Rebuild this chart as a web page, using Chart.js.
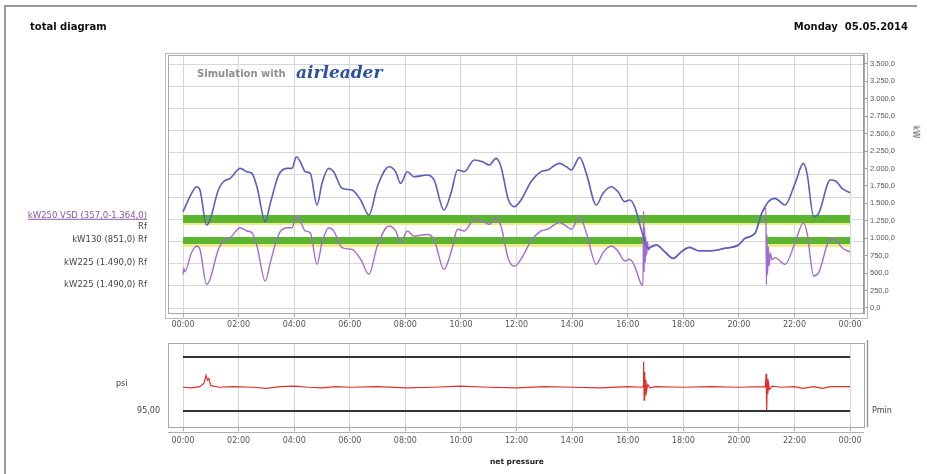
<!DOCTYPE html>
<html><head><meta charset="utf-8">
<script src="https://cdn.jsdelivr.net/npm/chart.js@4/dist/chart.umd.min.js"></script>
<style>
html,body{margin:0;padding:0;background:#fff;width:927px;height:474px;overflow:hidden;font-family:"DejaVu Sans",sans-serif}
.ln{position:absolute;background:#9a9a9a}
canvas{position:absolute;left:0}
.t{position:absolute;white-space:nowrap;line-height:1;transform:translateY(-50%);color:#444}
.r{text-align:right}
</style></head><body>
<div class="ln" style="left:4px;top:5px;width:913px;height:1.5px"></div>
<div class="ln" style="left:4px;top:5px;width:1.5px;height:469px"></div>
<canvas id="main" width="927" height="340" style="top:0"></canvas>
<canvas id="low" width="927" height="139" style="top:335px"></canvas>
<div class="t" style="left:30px;top:27px;font-weight:bold;font-size:10px;color:#111">total diagram</div>
<div class="t" style="right:19px;top:27px;font-weight:bold;font-size:10px;color:#111">Monday&nbsp; 05.05.2014</div>
<div class="t" style="left:197px;top:74px;font-weight:bold;font-size:10px;color:#8f8f8f">Simulation with</div>
<div class="t" style="left:296px;top:72px;font-weight:bold;font-style:italic;font-size:17px;color:#2c4fa0;font-family:'DejaVu Serif',serif">airleader</div>
<div class="t r" style="right:780px;top:215px;font-size:8.5px;color:#8a55aa;text-decoration:underline">kW250 VSD (357,0-1.364,0)</div>
<div class="t r" style="right:780px;top:226px;font-size:8.5px">Rf</div>
<div class="t r" style="right:780px;top:239px;font-size:8.5px">kW130 (851,0) Rf</div>
<div class="t r" style="right:780px;top:262px;font-size:8.5px">kW225 (1.490,0) Rf</div>
<div class="t r" style="right:780px;top:284px;font-size:8.5px">kW225 (1.490,0) Rf</div>
<div class="t" style="left:909px;top:132px;font-size:8px;transform:translateY(-50%) rotate(90deg)">kW</div>
<div class="t" style="left:116px;top:384px;font-size:8px">psi</div>
<div class="t r" style="right:767px;top:411px;font-size:8px">95,00</div>
<div class="t" style="left:872px;top:411px;font-size:8px">Pmin</div>
<div class="t" style="left:490px;top:462px;font-size:7.5px;font-weight:bold;color:#222">net pressure</div>
<script>
// ---- data ----
const hourTicks = [0,2,4,6,8,10,12,14,16,18,20,22,24];
const hourLabels = ['00:00','02:00','04:00','06:00','08:00','10:00','12:00','14:00','16:00','18:00','20:00','22:00','00:00'];
const kwTicks = [0,250,500,750,1000,1250,1500,1750,2000,2250,2500,2750,3000,3250,3500];
const kwLabels = ['0,0','250,0','500,0','750,0','1.000,0','1.250,0','1.500,0','1.750,0','2.000,0','2.250,0','2.500,0','2.750,0','3.000,0','3.250,0','3.500,0'];
const gridRows = [0,1,2,3,4,5,6,7,8,9,10,11];

const totalTime = [0.00,0.31,0.49,0.61,0.85,0.97,1.27,1.45,1.70,2.06,2.30,2.48,2.66,2.96,3.14,3.44,3.74,3.92,4.08,4.22,4.40,4.58,4.82,5.00,5.24,5.42,5.72,6.08,6.39,6.69,6.99,7.41,7.65,7.83,8.07,8.31,8.79,9.03,9.39,9.64,9.88,10.12,10.48,10.78,11.02,11.26,11.44,11.70,11.92,12.16,12.52,12.88,13.12,13.54,13.79,13.97,14.27,14.51,14.87,15.11,15.41,15.65,15.89,16.07,16.25,16.49,16.73,17.03,17.33,17.63,17.93,18.23,18.54,19.02,19.50,19.98,20.22,20.58,20.82,21.06,21.30,21.66,22.02,22.32,22.45,22.69,22.87,23.29,23.47,23.71,24.00];
const totalKW = [1380,1645,1740,1692,1190,1262,1692,1811,1860,2003,1955,1931,1740,1238,1501,1907,2003,2003,2170,2098,1955,1931,1477,1788,2003,1955,1716,1692,1549,1334,1740,2027,1955,1788,1955,1883,1907,1836,1405,1645,1979,1955,2122,2098,2051,2146,2027,1560,1453,1549,1811,1955,1979,2075,2027,1979,2161,1931,1477,1645,1740,1668,1525,1549,1453,1119,856,903,807,712,807,870,822,822,856,903,999,1071,1358,1525,1573,1477,1788,2075,1931,1310,1358,1836,1826,1716,1654];

const vsdTime = [0.00,0.03,0.06,0.31,0.49,0.61,0.85,0.97,1.27,1.45,1.70,2.06,2.30,2.48,2.66,2.96,3.14,3.44,3.74,3.92,4.08,4.22,4.40,4.58,4.82,5.00,5.24,5.42,5.72,6.08,6.39,6.69,6.99,7.41,7.65,7.83,8.07,8.31,8.79,9.03,9.39,9.64,9.88,10.12,10.48,10.78,11.02,11.26,11.44,11.70,11.92,12.16,12.52,12.88,13.12,13.54,13.79,13.97,14.27,14.51,14.87,15.11,15.41,15.65,15.89,16.07,16.25,16.49,16.55,16.57,16.59,16.61,16.63,16.65,16.68,16.71,16.75,16.81,17.03,17.33,17.63,17.93,18.23,18.54,19.02,19.50,19.98,20.22,20.58,20.82,20.97,20.99,21.01,21.03,21.06,21.09,21.13,21.19,21.30,21.66,22.02,22.32,22.45,22.69,22.87,23.29,23.47,23.71,24.00];
const vsdKW = [480,570,520,795,890,840,340,410,840,960,1010,1150,1105,1080,890,385,650,1055,1150,1150,1320,1245,1105,1080,625,935,1150,1105,865,840,700,485,890,1175,1105,935,1105,1030,1055,985,555,795,1130,1105,1270,1245,1200,1295,1175,710,600,700,960,1105,1130,1225,1175,1130,1310,1080,625,795,890,815,675,700,600,340,330,1390,520,1150,650,1020,760,950,830,880,903,807,712,807,870,822,822,856,903,999,1071,1358,1430,330,1050,480,880,600,790,690,722,626,937,1224,1080,459,507,985,975,865,803];

const upperBandTime = [0,24];
const upperBandLevels = [1333,1219,1190];   // green top, green bottom, yellow bottom
const lowerBandTimeA = [0,16.56];
const lowerBandTimeB = [21.0,24];
const lowerBandLevels = [1018,918,875];

const pressTime = [0,0.3,0.6,0.75,0.83,0.88,0.93,1.0,1.1,1.3,1.8,2.5,3.0,3.5,4.0,4.5,5.0,5.5,6.0,7.0,8.0,9.0,10.0,11.0,12.0,13.0,14.0,15.0,16.0,16.5,16.55,16.57,16.59,16.61,16.63,16.65,16.68,16.72,16.8,17.0,18.0,19.0,20.0,20.95,20.98,21.0,21.02,21.04,21.07,21.1,21.2,21.5,22.0,22.3,22.7,23.0,23.3,24.0];
const pressPsi = [99.4,99.3,99.5,100.1,101.6,100.7,101.0,99.7,99.6,99.4,99.5,99.4,99.2,99.5,99.6,99.4,99.3,99.5,99.4,99.5,99.3,99.4,99.6,99.4,99.3,99.5,99.4,99.3,99.5,99.4,99.6,104.1,97.0,102.2,98.0,100.8,98.8,99.9,99.3,99.5,99.4,99.5,99.4,99.5,101.9,95.2,100.9,98.2,100.0,99.0,99.6,99.4,99.5,99.2,99.5,99.2,99.5,99.5];
const pminTime = [0,24];
const pminPsi = 95.0;
const pmaxPsi = 105.0;

// ---- helpers ----
const pts = (t, v) => t.map((x, i) => ({x, y: Array.isArray(v) ? v[i] : v}));
function band(times, levels) {
  return [
    {data: pts(times, levels[0]), borderWidth: 0, pointRadius: 0, fill: false, yAxisID: 'yKW', order: 2},
    {data: pts(times, levels[1]), borderWidth: 0, pointRadius: 0, fill: '-1', backgroundColor: '#5cb531', yAxisID: 'yKW', order: 2},
    {data: pts(times, levels[2]), borderWidth: 0, pointRadius: 0, fill: '-1', backgroundColor: '#ecec8a', yAxisID: 'yKW', order: 2}
  ];
}
const frame = {
  id: 'frame',
  afterDraw(c) {
    const a = c.chartArea, g = c.ctx;
    g.save(); g.strokeStyle = '#a8a8a8'; g.lineWidth = 1;
    g.strokeRect(a.left + 0.5, a.top + 0.5, a.right - a.left, a.bottom - a.top);
    if (c.canvas.id === 'low') {
      g.strokeStyle = '#b0b0b0';
      g.beginPath(); g.moveTo(a.left, a.bottom + 5.5); g.lineTo(a.right, a.bottom + 5.5); g.stroke();
      g.strokeStyle = '#999'; g.lineWidth = 1.5;
      g.beginPath(); g.moveTo(a.right + 3.5, a.top - 3); g.lineTo(a.right + 3.5, a.bottom); g.stroke();
    } else {
      g.strokeStyle = '#b8b8b8';
      g.strokeRect(a.left - 3 + 0.5, a.top - 2 + 0.5, a.right - a.left + 6, a.bottom - a.top + 7);
    }
    g.restore();
  }
};
const tickFont = {family: 'DejaVu Sans', size: 8};
const xScale = (h) => ({
  type: 'linear', min: -0.54, max: 24.5,
  afterBuildTicks: s => { s.ticks = hourTicks.map(v => ({value: v})); },
  afterFit: s => { s.height = h; },
  ticks: {callback: (v, i) => hourLabels[i], font: tickFont, color: '#555', padding: 3, maxRotation: 0, autoSkip: false},
  grid: {color: '#d6d6d6', tickLength: 4, tickColor: '#aaa'},
  border: {color: '#a8a8a8'}
});

new Chart(document.getElementById('main'), {
  type: 'line',
  data: {datasets: [
    {data: pts(totalTime, totalKW), borderColor: '#5a5fbd', borderWidth: 1.6, pointRadius: 0, cubicInterpolationMode: 'monotone', yAxisID: 'yKW', order: 0},
    {data: pts(vsdTime, vsdKW), borderColor: '#a46ccf', borderWidth: 1.4, pointRadius: 0, cubicInterpolationMode: 'monotone', yAxisID: 'yKW', order: 1},
    ...band(upperBandTime, upperBandLevels),
    ...band(lowerBandTimeA, lowerBandLevels),
    ...band(lowerBandTimeB, lowerBandLevels)
  ]},
  options: {
    responsive: false, animation: false, events: [],
    layout: {padding: {left: 168, top: 55, right: 0, bottom: 0}},
    plugins: {legend: {display: false}, tooltip: {enabled: false}},
    scales: {
      x: xScale(27),
      y: {type: 'linear', position: 'left', min: -0.225, max: 11.41,
          afterBuildTicks: s => { s.ticks = gridRows.map(v => ({value: v})); },
          afterFit: s => { s.width = 0; },
          ticks: {display: false}, grid: {color: '#d6d6d6', drawTicks: false}, border: {display: false}},
      yKW: {type: 'linear', position: 'right', min: -72, max: 3629,
          afterBuildTicks: s => { s.ticks = kwTicks.map(v => ({value: v})); },
          afterFit: s => { s.width = 63; },
          ticks: {callback: (v, i) => kwLabels[i], font: {family: 'Liberation Sans', size: 7.5}, color: '#555', padding: 3},
          grid: {drawOnChartArea: false, tickLength: 3, color: '#999'},
          border: {color: '#999', width: 1.5}}
    }
  },
  plugins: [frame]
});

new Chart(document.getElementById('low'), {
  type: 'line',
  data: {datasets: [
    {data: pts(pressTime, pressPsi), borderColor: '#e0302c', borderWidth: 1.2, pointRadius: 0, tension: 0},
    {data: pts(pminTime, pmaxPsi), borderColor: '#333', borderWidth: 2, pointRadius: 0},
    {data: pts(pminTime, pminPsi), borderColor: '#333', borderWidth: 2, pointRadius: 0}
  ]},
  options: {
    responsive: false, animation: false, events: [],
    layout: {padding: {left: 168, top: 8, right: 63, bottom: 0}},
    plugins: {legend: {display: false}, tooltip: {enabled: false}},
    scales: {
      x: Object.assign(xScale(47), {ticks: {callback: (v, i) => hourLabels[i], font: tickFont, color: '#555', padding: 5, maxRotation: 0, autoSkip: false}}),
      y: {type: 'linear', min: 92.04, max: 107.59, display: false}
    }
  },
  plugins: [frame]
});
</script>
</body></html>
